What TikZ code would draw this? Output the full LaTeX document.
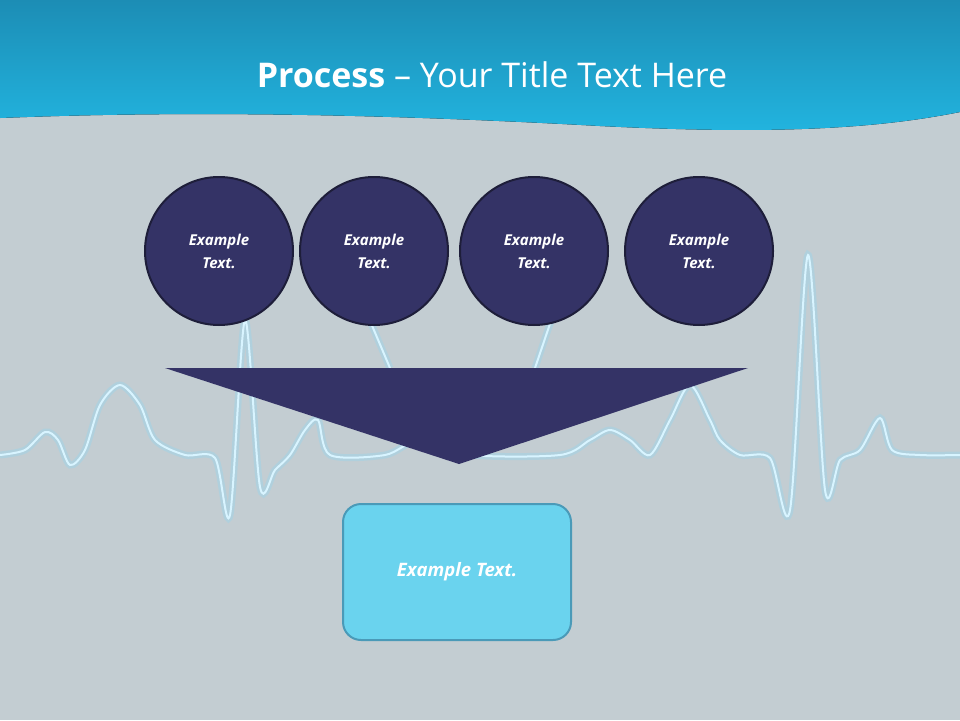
\documentclass[tikz,border=0pt]{standalone}
\usepackage{fontspec}
\setmainfont{Open Sans}
\definecolor{bg}{HTML}{C3CDD2}
\definecolor{navy}{HTML}{343366}
\definecolor{navyb}{HTML}{1E1E3A}
\definecolor{boxc}{HTML}{6AD3EE}
\definecolor{boxb}{HTML}{4A9AB8}
\definecolor{topa}{HTML}{1C8DB5}
\definecolor{topb}{HTML}{22B5E0}
\definecolor{ecg}{HTML}{D8F4FF}
\definecolor{glow}{HTML}{8FD8F2}
\begin{document}
\begin{tikzpicture}[x=1pt,y=-1pt,
  circ/.style={circle,draw=navyb,line width=2pt,fill=navy,minimum size=148pt,inner sep=0pt,text=white,font=\fontsize{15}{23}\selectfont\bfseries\itshape,align=center},
  boxn/.style={rounded corners=18pt,draw=boxb,line width=2pt,fill=boxc,minimum width=228pt,minimum height=136pt,text=white,font=\fontsize{18.5}{22}\selectfont\bfseries\itshape}]
\useasboundingbox (0,0) rectangle (960,720);
\fill[bg] (0,0) rectangle (960,720);
\fill[top color=topa,bottom color=topb] (0,0) -- (960,0) -- (960,112) .. controls (880,128) and (780,135) .. (600,126) .. controls (400,115) and (200,110) .. (0,118) -- cycle;
\node[text=white,font=\fontsize{34}{40}\selectfont] (title) at (492,75) {\textbf{Process} – Your Title Text Here};
\def\ecgpath{plot[smooth,tension=0.5] coordinates {(0,455) (25,450) (45,432) (58,440) (70,465) (85,450) (100,405) (120,385) (140,405) (155,440) (185,455) (215,458) (230,515) (245,320) (260,487) (275,470) (290,455) (305,430) (318,420) (330,455) (385,455) (420,440) (470,455) (560,455) (590,440) (610,430) (630,440) (650,455) (670,420) (690,385) (710,420) (720,440) (740,455) (770,458) (790,510) (808,255) (825,490) (840,460) (860,450) (880,418) (892,450) (920,455) (960,455)}}
\draw[glow,opacity=0.35,line width=7pt] \ecgpath;
\draw[ecg,line width=2pt] \ecgpath;
\draw[glow,opacity=0.35,line width=7pt] (340,250) -- (390,368) (575,250) -- (535,368);
\draw[ecg,line width=2pt] (340,250) -- (390,368) (575,250) -- (535,368);
\node[circ] (c1) at (219,251) {Example\\Text.};
\node[circ] (c2) at (374,251) {Example\\Text.};
\node[circ] (c3) at (534,251) {Example\\Text.};
\node[circ] (c4) at (699,251) {Example\\Text.};
\fill[navy] (165,368) -- (748,368) -- (459,464) -- cycle;
\node[boxn] (b) at (457,572) {Example Text.};
\end{tikzpicture}
\end{document}
